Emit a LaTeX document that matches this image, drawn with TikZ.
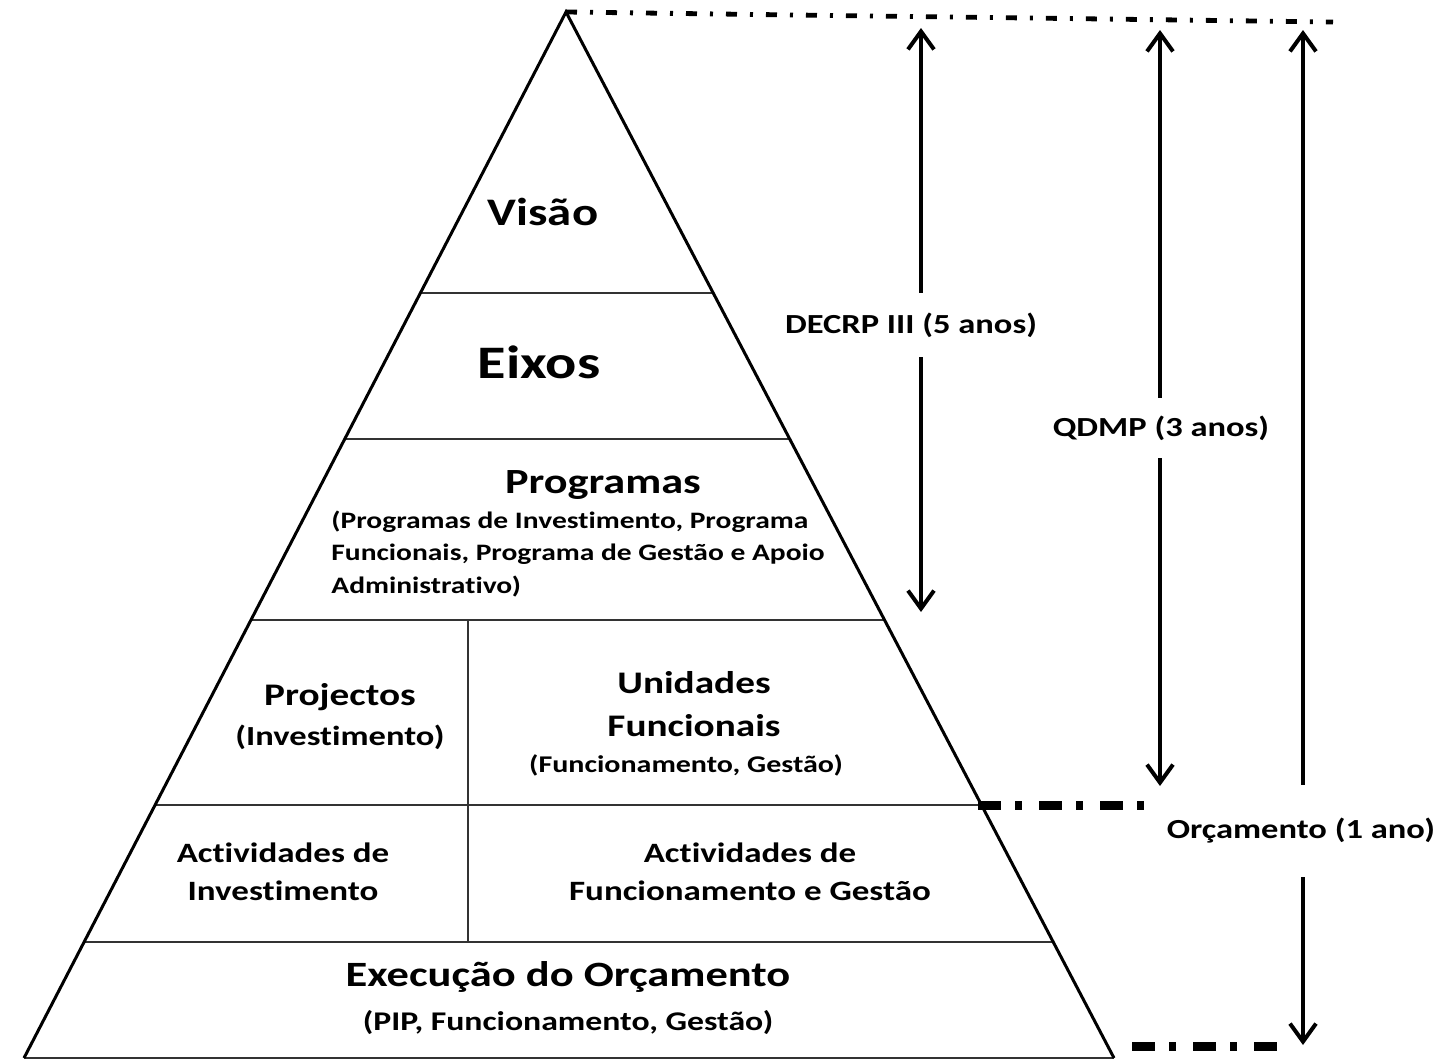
\documentclass[tikz,border=0pt]{standalone}
\usepackage{fontspec}
\setmainfont{Carlito}[FakeStretch=1.25,Ligatures={NoCommon}]
\usetikzlibrary{arrows.meta,calc}
\newcommand{\fs}[1]{\fontsize{#1}{1.2\dimexpr#1\relax}\selectfont}
\begin{document}
\begin{tikzpicture}[x=0.5pt,y=-0.5pt,
  every node/.style={font=\bfseries, inner sep=0pt, text=black},
  tx/.style={anchor=base},
  tri/.style={line width=1.5pt, line join=miter},
  div/.style={line width=1pt, draw=black!80},
  arr/.style={line width=2pt, -{Straight Barb[length=9pt,width=13pt,line width=2pt]}},
  dd/.style={line width=4.5pt, dash pattern=on 11.5pt off 7pt on 3.5pt off 8.5pt},
  dt/.style={line width=2.4pt, dash pattern=on 5.5pt off 6.5pt on 1.5pt off 6.5pt}]
\useasboundingbox (0,0) rectangle (1447,1060);
% pyramid
\coordinate (A) at (566,12);
\coordinate (BL) at (24,1058);
\coordinate (BR) at (1114,1058);
\foreach \y/\n in {293/1,439/2,620/3,805/4,942/5}{
  \coordinate (L\n) at ($(A)!{(\y-12)/1046}!(BL)$);
  \coordinate (R\n) at ($(A)!{(\y-12)/1046}!(BR)$);
  \draw[div] (L\n) -- (R\n);
}
\coordinate (V1) at (468,620);
\coordinate (V2) at (468,942);
\draw[div] (V1) -- (V2);
\draw[div] (BL) -- (BR);
\draw[tri] (BL) -- (A) -- (BR);
% dash-dot lines
\coordinate (topE) at (1333,22);
\draw[dt] (A) -- (topE);
\coordinate (midS) at (978,805);
\coordinate (midE) at (1148,805);
\draw[dd] (midS) -- (midE);
\coordinate (botS) at (1132,1046);
\coordinate (botE) at (1282,1046);
\draw[dd] (botS) -- (botE);
% texts in pyramid
\node[tx] (visao) at (543,225) {\fs{19.5pt}Visão};
\node[tx] (eixos) at (539,378) {\fs{23.3pt}Eixos};
\node[tx] (prog) at (603,493) {\fs{17.7pt}Programas};
\node[tx, anchor=base west] (p1) at (331,528) {\fs{11.8pt}(Programas de Investimento, Programa};
\node[tx, anchor=base west] (p2) at (331,560) {\fs{11.8pt}Funcionais, Programa de Gestão e Apoio};
\node[tx, anchor=base west] (p3) at (331,593) {\fs{11.8pt}Administrativo)};
\node[tx] (proj) at (340,705) {\fs{15.7pt}Projectos};
\node[tx] (projb) at (340,745) {\fs{13.8pt}(Investimento)};
\node[tx] (unid) at (694,693) {\fs{15.7pt}Unidades};
\node[tx] (func) at (694,736) {\fs{15.7pt}Funcionais};
\node[tx] (funcb) at (686,772) {\fs{12pt}(Funcionamento, Gestão)};
\node[tx] (ai1) at (283,862) {\fs{14pt}Actividades de};
\node[tx] (ai2) at (283,900) {\fs{14pt}Investimento};
\node[tx] (af1) at (750,862) {\fs{14pt}Actividades de};
\node[tx] (af2) at (750,900) {\fs{14pt}Funcionamento e Gestão};
\node[tx] (exec) at (568,986) {\fs{17.8pt}Execução do Orçamento};
\node[tx] (execb) at (568,1030) {\fs{13.5pt}(PIP, Funcionamento, Gestão)};
% side arrows
\coordinate (dT) at (921,28);
\coordinate (dB) at (921,612);
\node[minimum height=32pt] (decrp) at (911,325) {\fs{13.8pt}DECRP III (5 anos)};
\draw[arr] (decrp.north -| dT) -- (dT);
\draw[arr] (decrp.south -| dB) -- (dB);
\coordinate (qT) at (1160,30);
\coordinate (qB) at (1160,786);
\node[minimum height=30pt] (qdmp) at (1161,428) {\fs{13.8pt}QDMP (3 anos)};
\draw[arr] (qdmp.north -| qT) -- (qT);
\draw[arr] (qdmp.south -| qB) -- (qB);
\coordinate (oT) at (1303,30);
\coordinate (oB) at (1303,1045);
\node[minimum height=46pt] (orc) at (1301,831) {\fs{13.8pt}Orçamento (1 ano)};
\draw[arr] (orc.north -| oT) -- (oT);
\draw[arr] (orc.south -| oB) -- (oB);
\end{tikzpicture}
\end{document}
